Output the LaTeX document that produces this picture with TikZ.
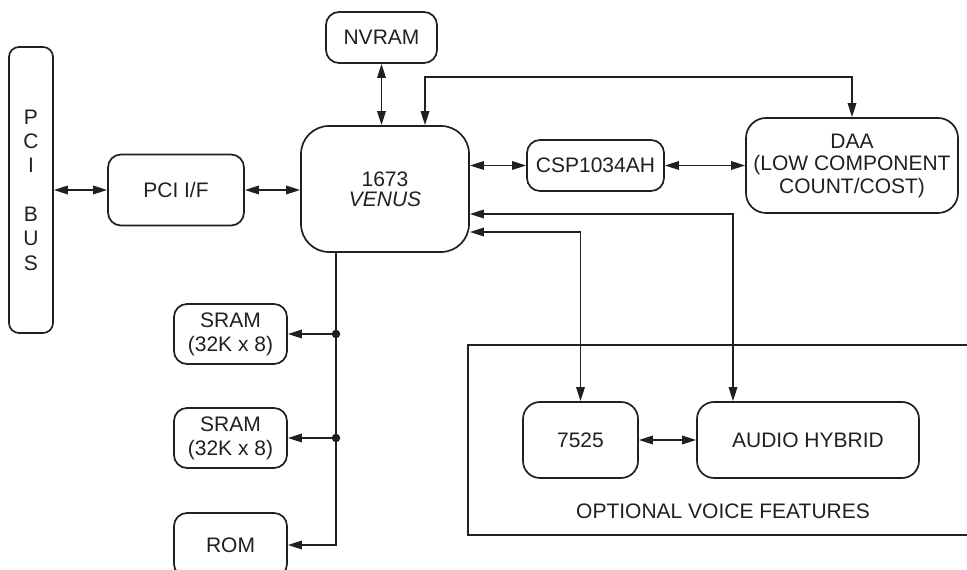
\documentclass[tikz,border=0pt]{standalone}
\usepackage{fontspec}
\setmainfont{Liberation Sans}
\usetikzlibrary{arrows.meta}
\definecolor{ink}{HTML}{231F20}
\begin{document}
\begin{tikzpicture}[x=1pt,y=1pt,
  every node/.style={text=ink},
  box/.style={draw=ink, line width=1.7pt, rounded corners=13pt, align=center, inner sep=0pt,
    font=\fontsize{21}{24}\selectfont},
  con/.style={draw=ink, line width=1.7pt},
  tip/.tip={Triangle[length=14pt,width=8.5pt]},
  bi/.style={con, tip-tip},
  uni/.style={con, -tip},
  dot/.style={circle, fill=ink, inner sep=0pt, minimum size=8.5pt}]
\useasboundingbox (0,0) rectangle (967,570);

% nodes
\node[box, rounded corners=10pt, minimum width=44pt, minimum height=286pt,
      font=\fontsize{21}{24.3}\selectfont] (bus) at (31,380) {P\\C\\I\\[24.3pt]B\\U\\S};
\node[box, minimum width=136pt, minimum height=71pt] (pcif) at (176,380) {PCI I/F};
\node[box, rounded corners=28pt, minimum width=168pt, minimum height=126pt,
      font=\fontsize{21}{20}\selectfont] (venus) at (385,381) {1673\\\textit{VENUS}};
\node[box, minimum width=111pt, minimum height=51pt] (nvram) at (381.5,532.5) {NVRAM};
\node[box, minimum width=137pt, minimum height=51pt] (csp) at (595.5,404.5) {CSP1034AH};
\node[box, rounded corners=20pt, minimum width=212pt, minimum height=95pt,
      font=\fontsize{21}{22.5}\selectfont] (daa) at (852,404.5) {DAA\\(LOW COMPONENT\\COUNT/COST)};
\node[box, minimum width=113pt, minimum height=60pt] (sram1) at (230.5,236) {SRAM\\(32K x 8)};
\node[box, minimum width=113pt, minimum height=60pt] (sram2) at (230.5,132) {SRAM\\(32K x 8)};
\node[box, minimum width=113pt, minimum height=64pt] (rom) at (230.5,25) {ROM};
\node[box, rounded corners=17pt, minimum width=115pt, minimum height=76pt] (v7525) at (580.5,130) {7525};
\node[box, rounded corners=17pt, minimum width=222pt, minimum height=76pt] (ah) at (808,130) {AUDIO HYBRID};

% optional voice features frame (runs off the right edge)
\draw[draw=ink, line width=2.5pt] (975,225) -- (468,225) -- (468,35) -- (975,35);
\node[font=\fontsize{21}{24}\selectfont] (optlabel) at (723,59) {OPTIONAL VOICE FEATURES};

% connectors
\draw[bi] (bus.east |- pcif.west) -- (pcif.west);
\draw[bi] (pcif.east) -- (pcif.east -| venus.west);
\draw[bi] (nvram.south) -- (nvram.south |- venus.north);
\draw[bi] (csp.west -| venus.east) -- (csp.west);
\draw[bi] (csp.east) -- (daa.west);
\draw[bi] ([xshift=40pt]venus.north) -- ++(0,48) -| (daa.north);
\draw[bi] ([yshift=-25pt]venus.east) -| ([xshift=-75pt]ah.north);
\draw[bi] ([yshift=-43pt]venus.east) -| (v7525.north);
\draw[bi] (v7525.east) -- (ah.west);

% memory bus
\coordinate (bustop) at ([xshift=-49pt]venus.south);
\draw[uni] (bustop) |- (rom.east);
\node[dot] (d1) at (bustop |- sram1.east) {};
\node[dot] (d2) at (bustop |- sram2.east) {};
\draw[uni] (d1.center) -- (sram1.east);
\draw[uni] (d2.center) -- (sram2.east);
\end{tikzpicture}
\end{document}
